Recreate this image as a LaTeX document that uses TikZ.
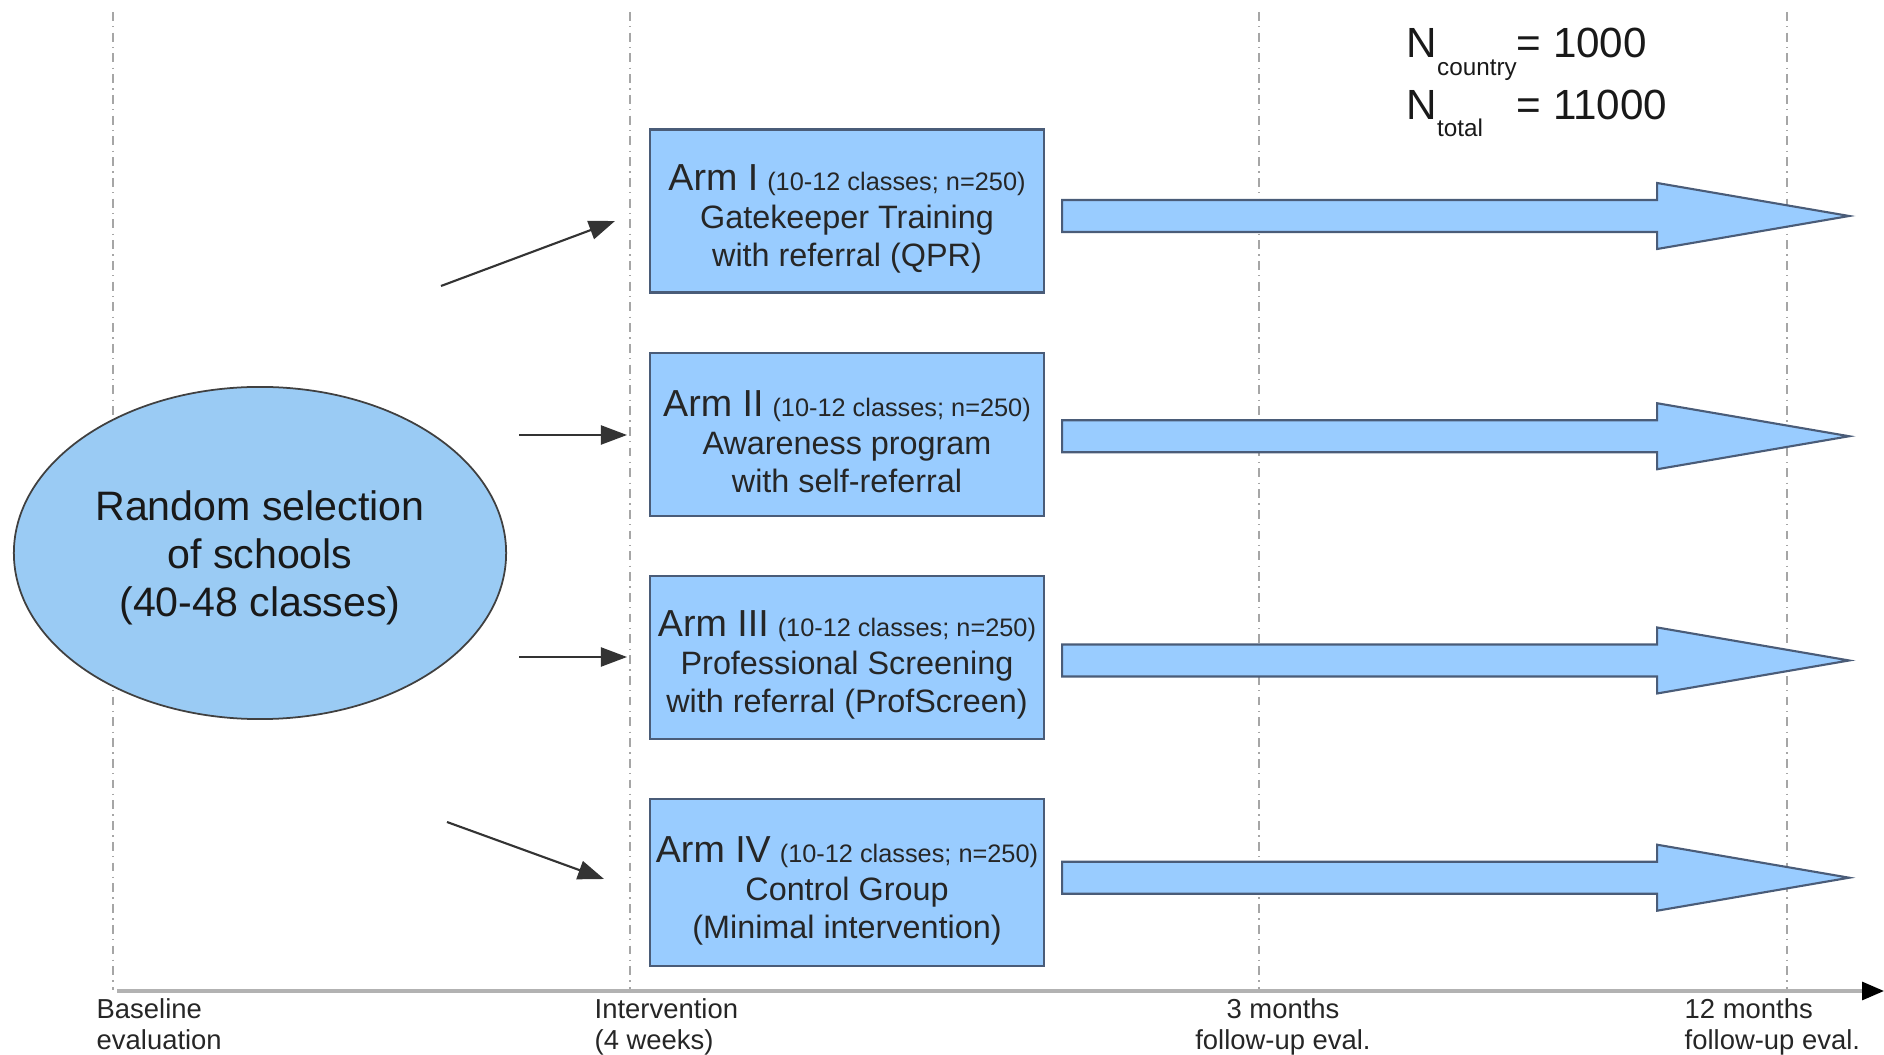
\documentclass[tikz,border=0pt]{standalone}
\usepackage{fontspec}
\setmainfont{Liberation Sans}
\usetikzlibrary{arrows.meta, positioning, shapes.geometric, calc}

\definecolor{armblue}{HTML}{99CCFF}
\definecolor{armline}{HTML}{4A5C78}
\definecolor{ellblue}{HTML}{9ACBF4}

\tikzset{
  armbox/.style={draw=armline, fill=armblue, line width=0.6pt,
    minimum width=3.94cm, minimum height=1.63cm, align=center, inner sep=0pt,
    font=\fontsize{9.2}{10.8}\selectfont, text=black!85},
  bigarrow/.style={draw=armline, fill=armblue, line width=0.6pt},
  timeline/.style={gray!70, line width=0.4pt,
    dash pattern=on 2.5pt off 1.5pt on 0.4pt off 1.5pt},
  feed/.style={black!80, line width=0.6pt, -{Triangle[length=0.26cm, width=0.19cm]}},
  ticklabel/.style={align=left, inner sep=0pt,
    font=\fontsize{7.8}{8.8}\selectfont, text=black!85},
  countlabel/.style={anchor=base west, inner sep=0pt,
    font=\fontsize{12}{14}\selectfont, text=black!90},
}

\newcommand{\armtitle}[2]{\rule{0pt}{11.8pt}{\fontsize{10.7}{12}\selectfont Arm #1}\ {\fontsize{7.2}{8}\selectfont (#2)}}

\begin{document}
\begin{tikzpicture}[x=0.01cm, y=-0.01cm]
\useasboundingbox (0,0) rectangle (1884,1055);

% time grid
\foreach \x in {113, 630, 1259, 1787}
  \draw[timeline] (\x,12) -- (\x,990);

% time axis
\coordinate (axis start) at (117,991);
\coordinate (axis end) at (1884,991);
\draw[gray!60, line width=0.9pt, -{Triangle[length=0.22cm, width=0.18cm, color=black, fill=black]}]
  (axis start) -- (axis end);

% schools
\node[draw=black!75, fill=ellblue, ellipse, line width=0.5pt, inner sep=0pt,
  minimum width=4.92cm, minimum height=3.32cm, align=center,
  font=\fontsize{11.7}{13.6}\selectfont, text=black!90] (schools) at (260,553)
  {\rule{0pt}{11.3pt}Random selection\\of schools\\(40-48 classes)};

% arms
\node[armbox] (arm1) at (847,211)
  {\armtitle{I}{10-12 classes; n=250}\\Gatekeeper Training\\with referral (QPR)};
\node[armbox, below=0.58cm of arm1] (arm2)
  {\armtitle{II}{10-12 classes; n=250}\\Awareness program\\with self-referral};
\node[armbox, below=0.58cm of arm2] (arm3)
  {\armtitle{III}{10-12 classes; n=250}\\Professional Screening\\with referral (ProfScreen)};
\node[armbox, below=0.58cm of arm3, minimum height=1.67cm] (arm4)
  {\armtitle{IV}{10-12 classes; n=250}\\Control Group\\(Minimal intervention)};

% follow-up arrows
\foreach \i/\dy in {1/5, 2/2, 3/3, 4/-5}
  \draw[bigarrow] ($(arm\i.east)+(17,\dy-16)$) -- ++(595,0) -- ++(0,-17)
    -- ($(arm\i.east)+(804,\dy)$) -- ($(arm\i.east)+(612,\dy+33)$) -- ++(0,-17)
    -- ($(arm\i.east)+(17,\dy+16)$) -- cycle;

% allocation arrows
\foreach \i/\sx/\sy/\ex/\ey in {1/441/286/615/221, 2/519/435/627/435,
                               3/519/657/627/657, 4/447/822/604/879} {
  \coordinate (feed\i start) at (\sx,\sy);
  \coordinate (feed\i end) at (\ex,\ey);
  \draw[feed] (feed\i start) -- (feed\i end);
}

% sample sizes
\node[countlabel] (ncountry) at (1406,58)
  {N\raisebox{-5.1pt}{\fontsize{6.9}{8}\selectfont country}};
\node[countlabel] (ncountry value) at (1516,58) {= 1000};
\node[countlabel] (ntotal) at (1406,120)
  {N\raisebox{-4.6pt}{\fontsize{6.9}{8}\selectfont total}};
\node[countlabel] (ntotal value) at (1516,120) {= 11000};

% time labels
\node[ticklabel, anchor=north west] (baseline) at (96,998) {Baseline\\evaluation};
\node[ticklabel, anchor=north west] (intervention) at (594,998) {Intervention\\(4 weeks)};
\node[ticklabel, align=center, anchor=north] (three months) at (1283,998) {3 months\\follow-up eval.};
\node[ticklabel, anchor=north west] (twelve months) at (1684,998) {12 months\\follow-up eval.};
\end{tikzpicture}
\end{document}
